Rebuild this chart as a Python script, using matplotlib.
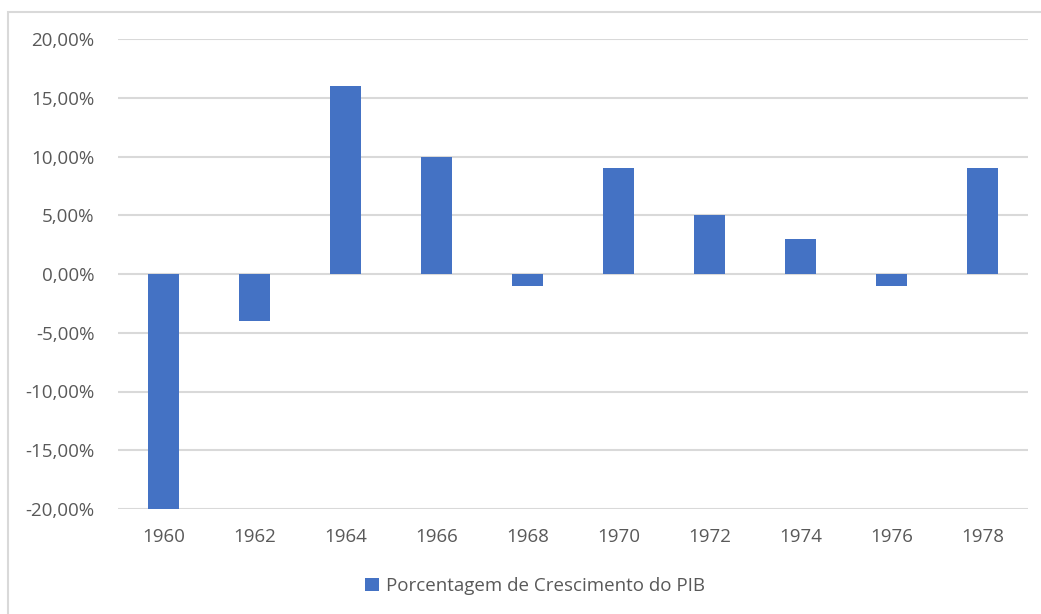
import matplotlib.pyplot as plt
from matplotlib.patches import Rectangle
from matplotlib.ticker import FuncFormatter, MultipleLocator

years = ["1960", "1962", "1964", "1966", "1968", "1970", "1972", "1974", "1976", "1978"]
growth = [-20, -4, 16, 10, -1, 9, 5, 3, -1, 9]   # % crescimento do PIB
series_name = "Porcentagem de Crescimento do PIB"

plt.rcParams['font.family'] = ['Open Sans', 'DejaVu Sans']

fig = plt.figure(figsize=(10.41, 6.14), dpi=100)
ax = fig.add_axes([118/1041, 1 - 509/614, 910/1041, 470/614])

# chart border (cut at right/bottom like the screenshot)
fig.patches.append(Rectangle((8/1041, -0.1), 1.2, 1 - 12/614 + 0.1, transform=fig.transFigure,
                             fill=False, edgecolor="#d9d9d9", linewidth=1.5))

x = range(len(years))
ax.bar(x, growth, width=0.33, color="#4472c4", label=series_name, zorder=3)

ax.set_xlim(-0.5, len(years) - 0.5)
ax.set_ylim(-20, 20)
ax.yaxis.set_major_locator(MultipleLocator(5))
ax.yaxis.set_major_formatter(FuncFormatter(lambda v, p: f"{v:.2f}%".replace(".", ",")))
ax.set_xticks(list(x))
ax.set_xticklabels(years)

ax.grid(axis='y', color="#d9d9d9", linewidth=1.5, zorder=0)
for s in ax.spines.values():
    s.set_visible(False)
ax.tick_params(length=0, labelsize=13.5, labelcolor="#595959")
ax.tick_params(axis='y', pad=17)
ax.tick_params(axis='x', pad=14)

fig.legend(loc="center", bbox_to_anchor=(535/1041, 1 - 586/614), frameon=False,
           fontsize=13.5, labelcolor="#595959", handlelength=0.75, handleheight=0.75,
           handletextpad=0.35)

plt.savefig("out.png", dpi=100)
